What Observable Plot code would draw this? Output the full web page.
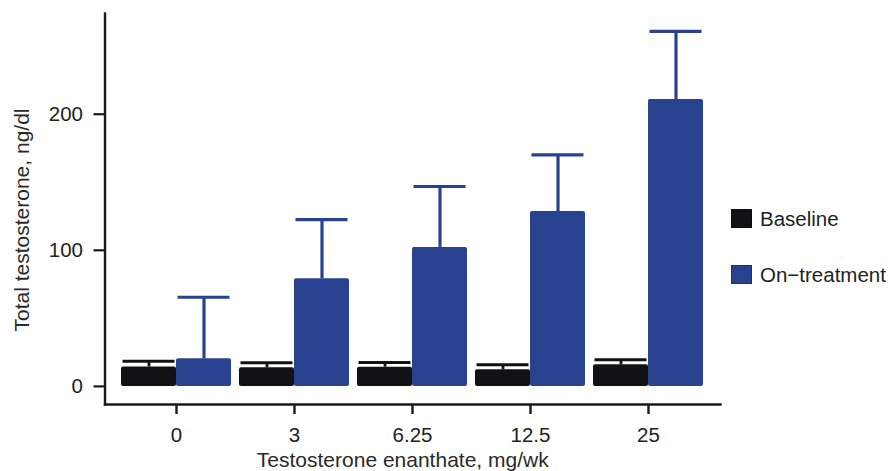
<!DOCTYPE html>
<html>
<head>
<meta charset="utf-8">
<script src="https://cdn.jsdelivr.net/npm/d3@7"></script>
<script src="https://cdn.jsdelivr.net/npm/@observablehq/plot@0.6"></script>
<style>
  html, body { margin: 0; padding: 0; background: #fff; }
  #wrap { position: relative; width: 892px; height: 471px; font-family: "Liberation Sans", Arial, Helvetica, sans-serif; }
  #legend { position: absolute; left: 731px; top: 209px; font-size: 20.5px; color: #222; }
  .item { display: flex; align-items: center; height: 19px; margin-bottom: 37px; }
  .sw { width: 21px; height: 19px; margin-right: 8px; box-sizing: border-box; border: 1px solid rgba(0,0,0,0.25); }
</style>
</head>
<body>
<div id="wrap"></div>
<script>
const doses = ["0", "3", "6.25", "12.5", "25"];
const seriesNames = ["Baseline", "On\u2212treatment"];
const baselineMean = [14.3, 13.7, 14.1, 12.2, 15.9];
const baselineSD = [4.2, 3.6, 3.4, 3.7, 3.6];
const treatMean = [20.3, 79.1, 102.1, 128.5, 210.8];
const treatSD = [45.2, 43.5, 44.8, 41.6, 50.0];
const yTicks = [0, 100, 200];
const yDomain = [-13.3, 274];
const colors = ["#121215", "#29428f"];

const W = 892, H = 471;
const mL = 104.5, mR = 172, mT = 13, mB = 67;
const padIn = 0.07, padOut = 0.137;

const xs = Plot.scale({x: {type: "band", domain: doses, range: [mL, W - mR], paddingInner: padIn, paddingOuter: padOut}});
const bw = xs.bandwidth;
const half = bw / 2;

const base = doses.map((d, i) => ({dose: d, mean: baselineMean[i], upper: baselineMean[i] + baselineSD[i]}));
const treat = doses.map((d, i) => ({dose: d, mean: treatMean[i], upper: treatMean[i] + treatSD[i]}));

const font = "Liberation Sans, Arial, Helvetica, sans-serif";

const plot = Plot.plot({
  width: W, height: H,
  marginLeft: mL, marginRight: mR, marginTop: mT, marginBottom: mB,
  style: {fontFamily: font, background: "#fff"},
  x: {type: "band", domain: doses, paddingInner: padIn, paddingOuter: padOut, label: null},
  y: {domain: yDomain, label: null},
  marks: [
    Plot.barY(base, {x: "dose", y: "mean", fill: colors[0], insetRight: half, rx: 2}),
    Plot.barY(treat, {x: "dose", y: "mean", fill: colors[1], insetLeft: half, rx: 2}),
    Plot.ruleX(base, {x: "dose", y1: "mean", y2: "upper", stroke: colors[0], strokeWidth: 2.8, dx: -bw / 4}),
    Plot.tickY(base, {x: "dose", y: "upper", stroke: colors[0], strokeWidth: 3, insetLeft: 1.5, insetRight: half + 1.5}),
    Plot.ruleX(treat, {x: "dose", y1: "mean", y2: "upper", stroke: colors[1], strokeWidth: 3.2, dx: bw / 4}),
    Plot.tickY(treat, {x: "dose", y: "upper", stroke: colors[1], strokeWidth: 3.2, insetLeft: half + 1.5, insetRight: 1.5}),
    Plot.frame({anchor: "left", stroke: "#1a1a1a", strokeWidth: 2.4}),
    Plot.frame({anchor: "bottom", stroke: "#1a1a1a", strokeWidth: 2.4}),
    Plot.axisY({ticks: yTicks, tickSize: 11, tickPadding: 11, fontSize: 20.5, stroke: "#1a1a1a", strokeWidth: 2.2, fill: "#222", label: null}),
    Plot.axisX({tickSize: 10, tickPadding: 13, fontSize: 20.5, stroke: "#1a1a1a", strokeWidth: 2.4, fill: "#222", label: null}),
    Plot.text(["Testosterone enanthate, mg/wk"], {frameAnchor: "bottom", textAnchor: "middle", lineAnchor: "middle", dx: -10, dy: 56, fontSize: 21, fill: "#2a2a2a"}),
    Plot.text(["Total testosterone, ng/dl"], {frameAnchor: "left", textAnchor: "middle", lineAnchor: "middle", rotate: -90, dx: -82.5, dy: 11, fontSize: 21, fill: "#2a2a2a"})
  ]
});

const wrap = document.getElementById("wrap");
wrap.appendChild(plot);

const legend = document.createElement("div");
legend.id = "legend";
seriesNames.forEach((name, i) => {
  const item = document.createElement("div");
  item.className = "item";
  const sw = document.createElement("span");
  sw.className = "sw";
  sw.style.background = colors[i];
  const label = document.createElement("span");
  label.textContent = name;
  item.appendChild(sw);
  item.appendChild(label);
  legend.appendChild(item);
});
wrap.appendChild(legend);
</script>
</body>
</html>
